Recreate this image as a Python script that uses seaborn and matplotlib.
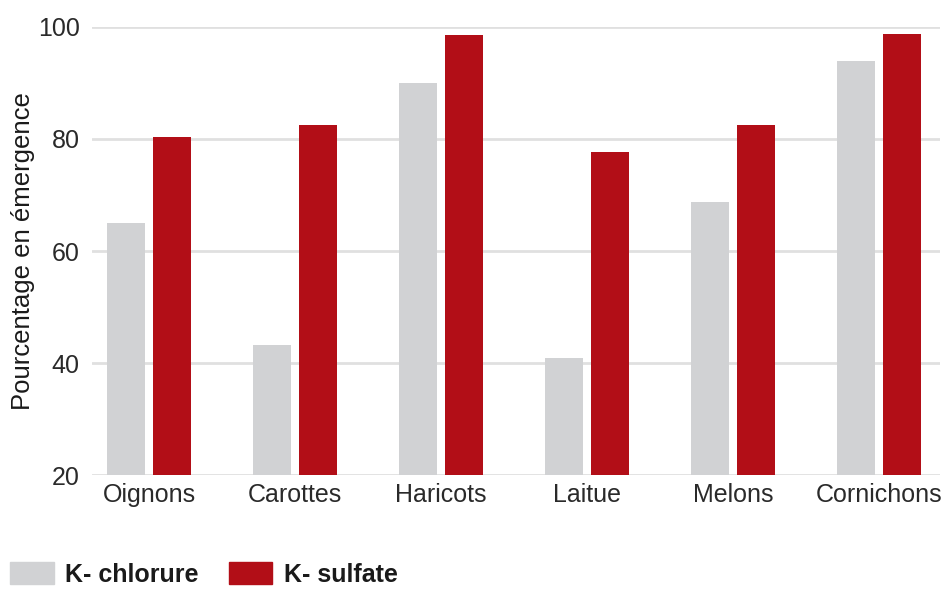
import matplotlib
matplotlib.use("Agg")
import matplotlib.pyplot as plt
import matplotlib.patches as mpatches
import seaborn as sns
import pandas as pd

## ===================== data =====================

categories = ["Oignons", "Carottes", "Haricots", "Laitue", "Melons", "Cornichons"]
chlorure = [65.0, 43.2, 90.0, 40.9, 68.8, 93.9]
sulfate = [80.4, 82.5, 98.6, 77.7, 82.5, 98.7]
series = ["K- chlorure", "K- sulfate"]
colors = ["#d1d2d4", "#b20e17"]

df = pd.DataFrame({
    "Culture": categories * 2,
    "Valeur": chlorure + sulfate,
    "Engrais": [series[0]] * len(categories) + [series[1]] * len(categories),
})

## ===================== draw =====================

sns.set_style("white")
plt.rcParams["font.family"] = ["Liberation Sans", "DejaVu Sans"]

fig = plt.figure(figsize = (9.43, 5.89), dpi = 100)
ax = fig.add_axes([0.0976, 0.1935, 0.8994, 0.7607])

sns.barplot(ax = ax, data = df, x = "Culture", y = "Valeur", hue = "Engrais",
            palette = colors, width = 0.63, gap = 0.175, saturation = 1,
            linewidth = 0, legend = False, zorder = 3)

ax.set_ylim(20, 100)
ax.set_xlim(-0.39, 5.42)
ax.set_yticks([20, 40, 60, 80, 100])
ax.yaxis.grid(True, color = "#e0e0e0", linewidth = 2, zorder = 0)
ax.set_axisbelow(True)
for s in ax.spines.values():
    s.set_visible(False)
ax.tick_params(axis = "both", length = 0, labelsize = 18, colors = "#2a2a2a")
ax.tick_params(axis = "y", pad = 9)
ax.tick_params(axis = "x", pad = 6)
ax.set_xlabel("")
ax.set_ylabel("Pourcentage en émergence", fontsize = 18.5, color = "#1a1a1a", labelpad = 2)

handles = [mpatches.Patch(color = c, label = l) for c, l in zip(colors, series)]
leg = fig.legend(handles = handles, loc = "lower left", bbox_to_anchor = (0.0, -0.013),
                 ncol = 2, frameon = False, handlelength = 1.75, handleheight = 0.95,
                 handletextpad = 0.45, columnspacing = 1.2, borderaxespad = 0.0,
                 prop = {"weight": "bold", "size": 18})
for t in leg.get_texts():
    t.set_color("#1a1a1a")

fig.savefig("out.png", dpi = 100)
